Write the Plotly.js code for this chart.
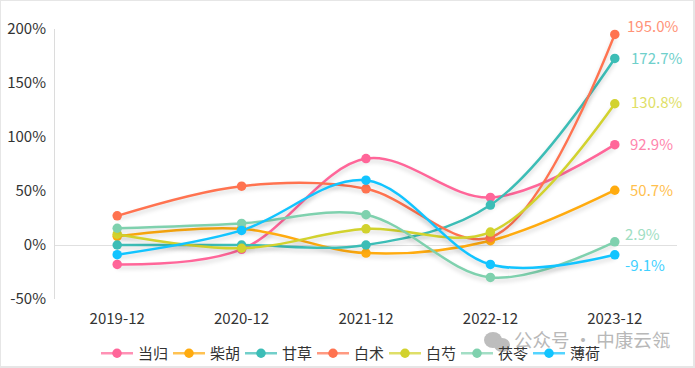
<!DOCTYPE html>
<html><head><meta charset="utf-8">
<script src="https://cdn.plot.ly/plotly-3.0.1.min.js"></script>
<style>
html,body{margin:0;padding:0;background:#fff;overflow:hidden}
#c{position:absolute;left:0;top:0;width:695px;height:368px}
#frame{position:absolute;left:0;top:0;width:695px;height:368px;box-sizing:border-box;border:1px solid #e6e6e6;border-bottom-width:2px;border-right-width:2px;pointer-events:none}
.scatterlayer .js-line{filter:drop-shadow(0 3px 2px rgba(0,0,0,.16))}
.legend .js-line{filter:none;opacity:.72}
</style></head><body>
<div id="c"></div><div id="frame"></div>
<script>
const categories=['2019-12','2020-12','2021-12','2022-12','2023-12'];
const names=['当归','柴胡','甘草','白术','白芍','茯苓','薄荷'];
const danggui=[-18,-4,80,44,92.9];
const chaihu=[8,15,-7.5,4,50.7];
const gancao=[0,0,0,37,172.7];
const baizhu=[27,54.5,52,7,195.0];
const baishao=[10,-3,15,12,130.8];
const fuling=[15.5,20,28,-30,2.9];
const bohe=[-9,13.5,60,-18,-9.1];
const seriesValues=[danggui,chaihu,gancao,baizhu,baishao,fuling,bohe];
const colors=['#FF6699','#FFAB0F','#3CBDB6','#FF7350','#D2D22E','#7FD1AE','#12C4FF'];
const labelColors=['#FF85AD','#FFC04D','#6FD0CB','#FF9378','#E0E066','#A0DEC3','#3FD0FF'];
const labelShiftX=[37,37,42,38,42,28,30];
const labelShiftY=[1,1,1,9,2,8,-10];
const tickVals=[-50,0,50,100,150,200];
const tickText=tickVals.map(v=>v+'%');
const W=695,H=368;
const font='"Noto Sans CJK SC","Noto Sans",sans-serif';
const traces=names.map((n,i)=>({
  type:'scatter',mode:'lines+markers',name:n,x:categories,y:seriesValues[i],
  line:{color:colors[i],width:2.5,shape:'spline',smoothing:1.0},
  marker:{color:colors[i],size:9.5},cliponaxis:false,hoverinfo:'skip'
}));
const annotations=names.map((n,i)=>({
  xref:'x',yref:'y',x:categories[4],y:seriesValues[i][4],
  text:seriesValues[i][4].toFixed(1)+'%',showarrow:false,
  xshift:labelShiftX[i],yshift:labelShiftY[i],
  font:{family:font,size:15,color:labelColors[i]}
}));
annotations.push({xref:'paper',yref:'paper',x:(512-55)/622,y:(299-339)/270,xanchor:'left',yanchor:'middle',
  text:'公众号 · 中康云瓴',showarrow:false,font:{family:font,size:18.5,color:'#b8b8b8'}});
const px=x=>(x-55)/622, py=y=>(299-y)/270;
const circle=(x0,y0,x1,y1,c)=>({type:'circle',xref:'paper',yref:'paper',x0:px(x0),x1:px(x1),y0:py(y1),y1:py(y0),
  fillcolor:c,line:{width:c==='#ffffff'?1:0,color:'#ffffff'},layer:'above'});
const shapes=[circle(484,332,502,348,'#bdbdbd'),circle(494,338,510,352,'#bdbdbd')];
Plotly.newPlot('c',traces,{
  width:W,height:H,margin:{l:55,r:18,t:29,b:69,autoexpand:false},
  paper_bgcolor:'#fff',plot_bgcolor:'#fff',showlegend:true,
  font:{family:font,size:15,color:'#333'},
  xaxis:{type:'category',categoryorder:'array',categoryarray:categories,range:[-0.5,4.5],showgrid:false,zeroline:false,showline:false,
    ticks:'outside',ticklen:6,tickcolor:'rgba(0,0,0,0)',tickfont:{family:font,size:15,color:'#333'}},
  yaxis:{range:[-50,200],tickvals:tickVals,ticktext:tickText,showgrid:false,zeroline:true,zerolinecolor:'#e0e0e0',zerolinewidth:1,
    showline:true,linecolor:'#dcdcdc',linewidth:1,ticks:'outside',ticklen:5,tickcolor:'rgba(0,0,0,0)',tickfont:{family:font,size:15,color:'#333'}},
  legend:{orientation:'h',x:px(96),xanchor:'left',y:py(337),yanchor:'top',entrywidth:25,entrywidthmode:'pixels',itemwidth:32,
    font:{family:font,size:15,color:'#333'},bgcolor:'rgba(0,0,0,0)',itemclick:false,itemdoubleclick:false,traceorder:'normal'},
  annotations,shapes
},{displayModeBar:false,staticPlot:true});
</script></body></html>
